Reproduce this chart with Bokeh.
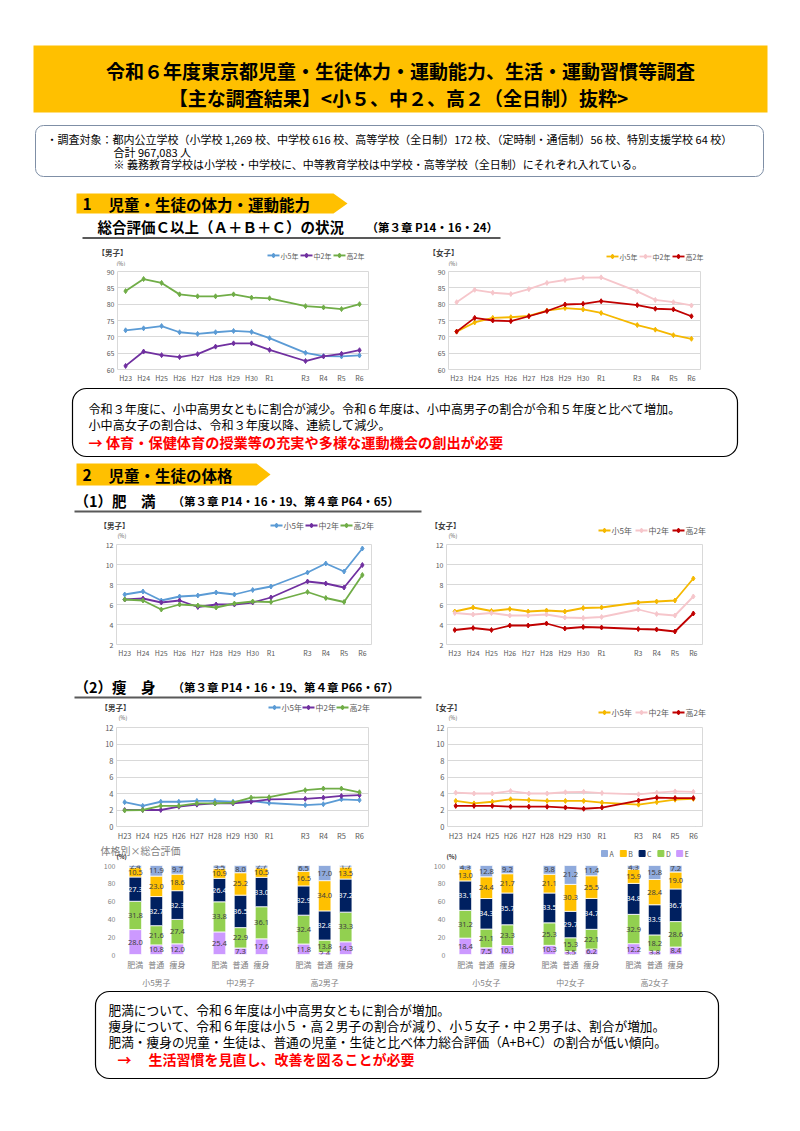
from bokeh.plotting import figure
from bokeh.layouts import column, row
from bokeh.models import (Range1d, FactorRange, Label, FixedTicker, ColumnDataSource)
from bokeh.core.properties import value
from bokeh.embed import file_html
from bokeh.resources import INLINE

JP = "Noto Sans CJK JP"
GRAY = "#595959"
PAGE_W = 792

# ---------------- data ----------------
years = ["H23", "H24", "H25", "H26", "H27", "H28", "H29", "H30", "R1", "R3", "R4", "R5", "R6"]
axis_years = ["H23", "H24", "H25", "H26", "H27", "H28", "H29", "H30", "R1", "R2", "R3", "R4", "R5", "R6"]
grades = ["小5年", "中2年", "高2年"]

# 総合評価C以上 (%)
fit_boys_e5 = [72.0, 72.6, 73.3, 71.4, 70.9, 71.4, 71.8, 71.5, 69.6, 65.1, 64.1, 64.0, 64.3]
fit_boys_j2 = [61.1, 65.5, 64.4, 63.8, 64.7, 67.0, 68.0, 68.0, 66.0, 62.6, 64.0, 64.8, 65.9]
fit_boys_h2 = [84.0, 87.7, 86.5, 83.0, 82.4, 82.4, 83.0, 82.0, 81.8, 79.4, 79.0, 78.5, 80.0]
fit_girls_e5 = [71.6, 74.4, 75.8, 76.0, 76.4, 78.0, 78.8, 78.4, 77.3, 73.6, 72.2, 70.5, 69.4]
fit_girls_j2 = [80.6, 84.4, 83.5, 83.1, 84.6, 86.5, 87.4, 88.1, 88.2, 83.9, 81.3, 80.6, 79.6]
fit_girls_h2 = [71.6, 75.8, 75.0, 74.8, 76.3, 77.9, 79.9, 80.1, 80.9, 79.7, 78.6, 78.4, 76.3]

# 肥満 (%)
obese_boys_e5 = [7.0, 7.3, 6.4, 6.8, 6.9, 7.2, 7.0, 7.45, 7.8, 9.2, 10.1, 9.3, 11.6]
obese_boys_j2 = [6.5, 6.6, 6.2, 6.4, 5.75, 6.0, 6.0, 6.2, 6.7, 8.3, 8.1, 7.7, 9.95]
obese_boys_h2 = [6.5, 6.4, 5.5, 6.0, 5.9, 5.7, 6.1, 6.3, 6.25, 7.25, 6.65, 6.25, 8.95]
obese_girls_e5 = [5.3, 5.7, 5.35, 5.55, 5.3, 5.4, 5.3, 5.65, 5.7, 6.2, 6.3, 6.4, 8.6]
obese_girls_j2 = [5.15, 5.0, 5.15, 4.9, 4.9, 5.0, 4.7, 4.65, 4.75, 5.5, 5.05, 4.9, 6.8]
obese_girls_h2 = [3.45, 3.65, 3.45, 3.9, 3.9, 4.1, 3.6, 3.75, 3.7, 3.55, 3.5, 3.3, 5.1]

# 痩身 (%)
thin_boys_e5 = [2.95, 2.5, 3.0, 3.0, 3.1, 3.1, 3.0, 3.1, 2.85, 2.6, 2.7, 3.3, 3.2]
thin_boys_j2 = [2.0, 2.0, 2.0, 2.4, 2.65, 2.8, 2.8, 3.0, 3.3, 3.35, 3.5, 3.7, 3.8]
thin_boys_h2 = [1.95, 2.0, 2.5, 2.5, 2.8, 2.8, 2.9, 3.5, 3.55, 4.4, 4.6, 4.6, 4.15]
thin_girls_e5 = [3.1, 2.8, 3.0, 3.3, 3.2, 3.1, 3.1, 3.1, 2.9, 2.65, 2.95, 3.25, 3.35]
thin_girls_j2 = [4.1, 4.0, 4.0, 4.3, 4.0, 4.0, 4.15, 4.2, 4.05, 3.9, 4.1, 4.25, 4.2]
thin_girls_h2 = [2.5, 2.5, 2.5, 2.4, 2.4, 2.4, 2.3, 2.15, 2.3, 3.15, 3.5, 3.45, 3.45]

# 体格別×総合評価 (%)
body_types = ["肥満", "普通", "痩身"]
boy_groups = ["小5男子", "中2男子", "高2男子"]
girl_groups = ["小5女子", "中2女子", "高2女子"]
ranks = ["A", "B", "C", "D", "E"]
boys_A = [2.4, 11.9, 9.7, 3.5, 8.0, 2.7, 6.5, 17.0, 1.7]
boys_B = [10.5, 23.0, 18.6, 10.9, 25.2, 10.5, 16.5, 34.0, 13.5]
boys_C = [27.3, 32.7, 32.3, 26.4, 36.5, 33.0, 32.9, 32.8, 37.2]
boys_D = [31.8, 21.6, 27.4, 33.8, 22.9, 36.1, 32.4, 13.8, 33.3]
boys_E = [28.0, 10.8, 12.0, 25.4, 7.3, 17.6, 11.8, 2.4, 14.3]
girls_A = [4.3, 12.8, 9.2, 9.8, 21.2, 11.4, 4.3, 15.8, 7.2]
girls_B = [13.0, 24.4, 21.7, 21.1, 30.3, 25.5, 15.9, 28.4, 19.0]
girls_C = [33.1, 34.3, 35.7, 33.5, 29.7, 34.7, 34.8, 33.9, 36.7]
girls_D = [31.2, 21.1, 23.3, 25.3, 15.3, 22.1, 32.9, 18.2, 28.6]
girls_E = [18.4, 7.5, 10.1, 10.3, 3.5, 6.2, 12.2, 3.8, 8.4]

BOY_COLORS = ["#5B9BD5", "#7030A0", "#70AD47"]
GIRL_COLORS = ["#F5B800", "#F6C6CB", "#C00000"]
RANK_COLORS = {"A": "#8FAADC", "B": "#FFC000", "C": "#002060", "D": "#92D050", "E": "#CC99FF"}
RANK_TEXT = {"A": "#404040", "B": "#404040", "C": "#FFFFFF", "D": "#404040", "E": "#404040"}


# ---------------- helpers ----------------
def canvas(y0, y1):
    p = figure(width=PAGE_W, height=y1 - y0, x_range=Range1d(0, PAGE_W), y_range=Range1d(y1, y0),
               output_backend="svg", toolbar_location=None,
               x_axis_location=None, y_axis_location=None,
               min_border=0, min_border_left=0, min_border_right=0,
               min_border_top=0, min_border_bottom=0)
    p.grid.visible = False
    p.outline_line_color = None
    return p


def txt(p, x, y, s, size, color="black", bold=False, align="left", font=JP):
    p.text(x=[x], y=[y], text=[s], text_font=value(font), text_font_size=f"{size}px",
           text_color=color, text_font_style="bold" if bold else "normal",
           text_align=align, text_baseline="middle")


def band_arrow(p, x0, x1, y0, y1):
    ym = (y0 + y1) / 2
    p.patch([x0, x1 - 14, x1, x1 - 14, x0], [y0, y0, ym, y1, y1],
            fill_color="#FFC000", line_color=None)


def line_legend(p, x, y, names, colors, step, fs):
    for i, (n, c) in enumerate(zip(names, colors)):
        x0 = x + i * step
        p.line([x0, x0 + 12], [y, y], line_color=c, line_width=1.8)
        p.scatter([x0 + 6], [y], marker="diamond", size=5, color=c)
        txt(p, x0 + 13, y, n, fs, color=GRAY)


def chart_header(p, title_xy, side, legend_xy, names, colors, step, fs, pct_xy):
    txt(p, title_xy[0], title_xy[1], side, 7.5, color="#404040", bold=True)
    line_legend(p, legend_xy[0], legend_xy[1], names, colors, step, fs)
    txt(p, pct_xy[0], pct_xy[1], "(%)", 5.5, color=GRAY)


def style_axes(p, fs, color):
    for ax in p.axis:
        ax.axis_line_color = None
        ax.major_tick_line_color = None
        ax.minor_tick_line_color = None
        ax.major_tick_out = 0
        ax.major_tick_in = 0
        ax.minor_tick_out = 0
        ax.minor_tick_in = 0
        ax.major_label_text_font_size = f"{fs}px"
        ax.major_label_text_color = color
        ax.major_label_text_font = JP
        ax.major_label_standoff = 3


xpos = [axis_years.index(y) for y in years]
xlabels = {axis_years.index(y): y for y in years}
XR = (-0.45, 13.5)


def line_chart(band, figx, frame, yr, ystep, series, colors, nendo_xy, fs=7):
    by0, by1 = band
    gx0, gx1 = figx
    l, t, r, b = frame
    p = figure(width=gx1 - gx0, height=by1 - by0, output_backend="svg", toolbar_location=None,
               x_range=Range1d(*XR), y_range=Range1d(yr[0], yr[1]),
               min_border_left=l - gx0, min_border_right=gx1 - r,
               min_border_top=t - by0, min_border_bottom=by1 - b)
    p.xgrid.visible = False
    p.ygrid.grid_line_color = "#D9D9D9"
    p.outline_line_color = "#D9D9D9"
    p.yaxis.ticker = FixedTicker(ticks=list(range(yr[0], yr[1] + 1, ystep)))
    p.xaxis.ticker = FixedTicker(ticks=xpos)
    p.xaxis.major_label_overrides = xlabels
    style_axes(p, fs, GRAY)
    for vals, c in zip(series, colors):
        p.line(xpos, vals, line_color=c, line_width=1.8)
        p.scatter(xpos, vals, marker="diamond", size=5, color=c)
    # tiny "年度" note (data units, just outside the frame)
    nx = XR[0] + (nendo_xy[0] - l) / (r - l) * (XR[1] - XR[0])
    ny = yr[0] - (nendo_xy[1] - b) / (b - t) * (yr[1] - yr[0])
    p.add_layout(Label(x=nx, y=ny, text="年度", text_font=JP, text_font_size="4.5px",
                       text_color=GRAY, text_align="center", text_baseline="middle"))
    return p


def stacked_chart(band, figx, frame, groups, data):
    by0, by1 = band
    gx0, gx1 = figx
    l, t, r, b = frame
    factors = [(g, c) for g in groups for c in body_types]
    p = figure(width=gx1 - gx0, height=by1 - by0, output_backend="svg", toolbar_location=None,
               x_range=FactorRange(factors=factors, group_padding=1.0, range_padding=0.3,
                                   range_padding_units="absolute"),
               y_range=Range1d(0, 100),
               min_border_left=l - gx0, min_border_right=gx1 - r,
               min_border_top=t - by0, min_border_bottom=by1 - b)
    p.grid.visible = False
    p.outline_line_color = None
    p.yaxis.ticker = FixedTicker(ticks=[0, 20, 40, 60, 80, 100])
    style_axes(p, 7, "#7F7F7F")
    p.xaxis.major_label_text_font_size = "8px"
    p.xaxis.major_label_standoff = 4
    p.xaxis.group_text_font = JP
    p.xaxis.group_text_font_size = "8px"
    p.xaxis.group_text_font_style = "normal"
    p.xaxis.group_text_color = "#7F7F7F"
    p.xaxis.separator_line_color = None
    src = ColumnDataSource(dict(x=factors, **{k: data[k] for k in ranks}))
    stack = ["E", "D", "C", "B", "A"]
    p.vbar_stack(stack, x="x", width=0.6, source=src,
                 color=[RANK_COLORS[k] for k in stack],
                 line_color="white", line_width=0.8)
    cum = [0.0] * len(factors)
    for k in stack:
        mids = [c + v / 2 for c, v in zip(cum, data[k])]
        cum = [c + v for c, v in zip(cum, data[k])]
        s2 = ColumnDataSource(dict(x=factors, y=mids, t=[f"{v:.1f}" for v in data[k]]))
        p.text(x="x", y="y", text="t", source=s2, text_font=value("Noto Sans"),
               text_font_size="7.5px", text_color=RANK_TEXT[k],
               text_align="center", text_baseline="middle")
    return p


# ---------------- band A: header ----------------
pA = canvas(0, 243)
pA.quad(left=[33], right=[767], top=[45], bottom=[112], fill_color="#FFC000", line_color=None)
txt(pA, 400, 70, "令和６年度東京都児童・生徒体力・運動能力、生活・運動習慣等調査", 19, bold=True, align="center")
txt(pA, 398, 97, "【主な調査結果】<小５、中２、高２（全日制）抜粋>", 19, bold=True, align="center")
pA.rect(x=[399], y=[150.5], width=[728], height=[51], fill_color=None,
        line_color="#7F8FA6", line_width=1, border_radius=8)
txt(pA, 46, 138, "・調査対象：都内公立学校（小学校 1,269 校、中学校 616 校、高等学校（全日制）172 校、（定時制・通信制）56 校、特別支援学校 64 校）", 11)
txt(pA, 113, 151, "合計 967,083 人", 11)
txt(pA, 113, 163, "※ 義務教育学校は小学校・中学校に、中等教育学校は中学校・高等学校（全日制）にそれぞれ入れている。", 11)
band_arrow(pA, 76, 347, 193, 213)
txt(pA, 82, 203.5, "1", 15.5, bold=True)
txt(pA, 108, 203.5, "児童・生徒の体力・運動能力", 15.5, bold=True)
txt(pA, 97, 226, "総合評価Ｃ以上（Ａ＋Ｂ＋Ｃ）の状況", 14.5, bold=True)
txt(pA, 366, 226.5, "（第３章 P14・16・24）", 11.5, bold=True)
pA.line([82, 500], [237.5, 237.5], line_color="#595959", line_width=2)

# ---------------- band B: fitness charts ----------------
pBs = canvas(243, 266)
chart_header(pBs, (97, 252), "【男子】", (267, 255), grades, BOY_COLORS, 33, 7, (116, 263))
chart_header(pBs, (428, 252), "【女子】", (606, 256), grades, GIRL_COLORS, 33, 7, (448, 263))
fit_m = line_chart((266, 385), (0, 400), (117, 271, 368, 372), (60, 90), 5,
                   [fit_boys_e5, fit_boys_j2, fit_boys_h2], BOY_COLORS, (364, 376))
fit_f = line_chart((266, 385), (400, PAGE_W), (448, 271, 700, 372), (60, 90), 5,
                   [fit_girls_e5, fit_girls_j2, fit_girls_h2], GIRL_COLORS, (696, 376))

# ---------------- band C: comment 1 + section 2 ----------------
pC = canvas(385, 513)
pC.rect(x=[404.5], y=[422], width=[665], height=[68], fill_color=None,
        line_color="black", line_width=1.2, border_radius=14)
txt(pC, 88, 408, "令和３年度に、小中高男女ともに割合が減少。令和６年度は、小中高男子の割合が令和５年度と比べて増加。", 12.1)
txt(pC, 88, 424, "小中高女子の割合は、令和３年度以降、連続して減少。", 12.1)
txt(pC, 88, 441, "→ 体育・保健体育の授業等の充実や多様な運動機会の創出が必要", 14.2, color="#FF0000", bold=True)
band_arrow(pC, 76, 270, 463, 485)
txt(pC, 82, 474, "2", 15.5, bold=True)
txt(pC, 108, 474, "児童・生徒の体格", 15.5, bold=True)
txt(pC, 74, 500, "（1）肥　満", 14.5, bold=True)
txt(pC, 172, 500.5, "（第３章 P14・16・19、第４章 P64・65）", 11.5, bold=True)
pC.line([74, 421], [511, 511], line_color="#595959", line_width=2)

# ---------------- band D: obesity charts ----------------
pDs = canvas(513, 539)
chart_header(pDs, (99, 525), "【男子】", (270, 525), grades, BOY_COLORS, 35, 8, (117, 535))
chart_header(pDs, (430, 525), "【女子】", (598, 530), grades, GIRL_COLORS, 37, 8, (448, 535))
ob_m = line_chart((539, 660), (0, 400), (116, 544, 371, 647), (2, 12), 2,
                  [obese_boys_e5, obese_boys_j2, obese_boys_h2], BOY_COLORS, (365, 650))
ob_f = line_chart((539, 660), (400, PAGE_W), (446, 544, 702, 647), (2, 12), 2,
                  [obese_girls_e5, obese_girls_j2, obese_girls_h2], GIRL_COLORS, (698, 650))

# ---------------- band E: (2) header + thin chart headers ----------------
pE = canvas(660, 721)
txt(pE, 74, 686, "（2）痩　身", 14.5, bold=True)
txt(pE, 172, 686.5, "（第３章 P14・16・19、第４章 P66・67）", 11.5, bold=True)
pE.line([74, 421], [697, 697], line_color="#595959", line_width=2)
chart_header(pE, (100, 707), "【男子】", (268, 707), grades, BOY_COLORS, 34, 8, (118, 717))
chart_header(pE, (431, 707), "【女子】", (598, 712), grades, GIRL_COLORS, 37, 8, (448, 717))

# ---------------- band F: thinness charts ----------------
th_m = line_chart((721, 843), (0, 400), (116, 727, 368, 827), (0, 12), 2,
                  [thin_boys_e5, thin_boys_j2, thin_boys_h2], BOY_COLORS, (363, 830), fs=7.5)
th_f = line_chart((721, 843), (400, PAGE_W), (447, 726, 702, 827), (0, 12), 2,
                  [thin_girls_e5, thin_girls_j2, thin_girls_h2], GIRL_COLORS, (698, 830), fs=7.5)

# ---------------- band G: stacked bars ----------------
pGs = canvas(843, 861)
txt(pGs, 100, 850, "体格別×総合評価", 10, color="#7F7F7F")
txt(pGs, 116, 856, "(%)", 6, color="#262626", bold=True)
txt(pGs, 446, 856, "(%)", 6, color="#262626", bold=True)
for i, k in enumerate(ranks):
    sx = 604 + i * 18.8
    pGs.scatter([sx], [853], marker="square", size=6, color=RANK_COLORS[k])
    txt(pGs, sx + 5, 853, k, 7, color=GRAY)
boys_data = dict(A=boys_A, B=boys_B, C=boys_C, D=boys_D, E=boys_E)
girls_data = dict(A=girls_A, B=girls_B, C=girls_C, D=girls_D, E=girls_E)
st_m = stacked_chart((861, 990), (0, 400), (118, 865, 362, 956), boy_groups, boys_data)
st_f = stacked_chart((861, 990), (400, PAGE_W), (448, 865, 692, 956), girl_groups, girls_data)

# ---------------- band H: comment 2 ----------------
pH = canvas(990, 1090)
pH.rect(x=[406.5], y=[1034.5], width=[623], height=[87], fill_color=None,
        line_color="black", line_width=1.2, border_radius=14)
txt(pH, 108, 1009, "肥満について、令和６年度は小中高男女ともに割合が増加。", 12.7)
txt(pH, 108, 1025, "痩身について、令和６年度は小５・高２男子の割合が減り、小５女子・中２男子は、割合が増加。", 12.7)
txt(pH, 108, 1041, "肥満・痩身の児童・生徒は、普通の児童・生徒と比べ体力総合評価（A+B+C）の割合が低い傾向。", 12.7)
txt(pH, 117, 1058, "→", 14, color="#FF0000", bold=True)
txt(pH, 148, 1058, "生活習慣を見直し、改善を図ることが必要", 14, color="#FF0000", bold=True)

layout = column(pA, pBs, row(fit_m, fit_f), pC, pDs, row(ob_m, ob_f), pE,
                row(th_m, th_f), pGs, row(st_m, st_f), pH)
open("out.html", "w").write(file_html(layout, INLINE))
